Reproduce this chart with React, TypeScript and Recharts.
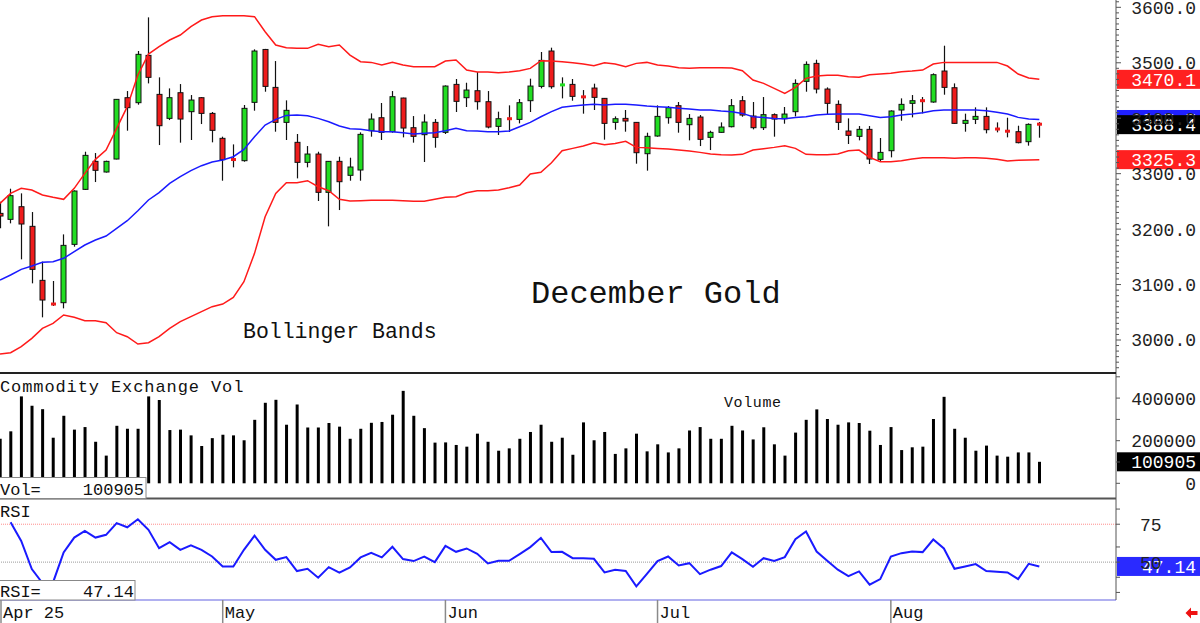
import React from "react";
import { ComposedChart, Bar, Line, XAxis, YAxis, ReferenceLine } from "recharts";

// ---------- data ----------
const monthTickIdx = [0, 21, 42, 62, 84];
const monthLabels = ["Apr 25", "May", "Jun", "Jul", "Aug"];

const opens = [
  3228.4, 3217.6, 3240.4, 3205.0, 3107.6, 3066.1, 3067.3, 3172.5, 3271.7, 3322.2,
  3303.0, 3326.4, 3437.0, 3428.0, 3513.3, 3443.0, 3399.7, 3446.0, 3411.8, 3437.0,
  3408.7, 3363.7, 3326.4, 3323.4, 3428.6, 3524.0, 3455.6, 3392.5, 3356.5, 3320.4,
  3335.4, 3266.3, 3322.2, 3297.0, 3306.6, 3377.5, 3400.9, 3375.7, 3436.4, 3382.9,
  3370.3, 3392.5, 3374.5, 3461.0, 3437.0, 3449.6, 3429.8, 3385.3, 3399.7, 3397.9,
  3431.6, 3457.4, 3521.2, 3459.2, 3461.0, 3439.4, 3454.4, 3435.8, 3392.5, 3399.7,
  3392.5, 3336.0, 3367.9, 3400.9, 3422.6, 3388.3, 3402.1, 3365.5, 3374.5, 3384.7,
  3431.6, 3403.9, 3382.9, 3406.4, 3399.1, 3411.8, 3466.5, 3498.9, 3452.6, 3425.0,
  3376.9, 3367.3, 3379.9, 3325.8, 3341.4, 3414.8, 3426.8, 3432.2, 3429.2, 3485.1,
  3455.0, 3390.7, 3397.9, 3403.3, 3381.1, 3378.7, 3375.7, 3357.7, 3390.0,
];
const highs = [
  3249.5, 3272.9, 3264.5, 3230.8, 3141.3, 3106.4, 3190.5, 3269.9, 3339.6, 3337.2,
  3323.4, 3434.6, 3449.0, 3521.2, 3581.9, 3473.7, 3453.8, 3461.6, 3441.8, 3438.0,
  3411.2, 3366.7, 3352.8, 3423.8, 3524.2, 3525.0, 3503.1, 3432.2, 3371.5, 3349.8,
  3339.6, 3322.8, 3330.6, 3328.8, 3374.5, 3408.7, 3427.4, 3449.0, 3437.0, 3403.9,
  3407.0, 3398.5, 3459.2, 3470.7, 3464.0, 3483.3, 3449.0, 3411.8, 3423.2, 3434.6,
  3471.3, 3519.4, 3527.2, 3473.7, 3470.7, 3450.8, 3462.3, 3436.5, 3403.3, 3414.8,
  3393.0, 3373.9, 3423.2, 3422.0, 3429.2, 3407.5, 3405.7, 3377.5, 3392.5, 3434.6,
  3440.0, 3429.2, 3438.2, 3408.7, 3420.2, 3470.1, 3502.5, 3505.5, 3455.6, 3432.2,
  3399.7, 3385.9, 3385.9, 3364.3, 3414.2, 3435.8, 3441.8, 3438.2, 3480.9, 3530.8,
  3462.8, 3408.2, 3419.6, 3419.6, 3392.5, 3400.9, 3386.5, 3390.7, 3393.1,
];
const lows = [
  3201.4, 3210.4, 3145.5, 3102.2, 3040.9, 3061.3, 3057.1, 3168.3, 3270.5, 3284.9,
  3302.0, 3325.8, 3377.5, 3424.4, 3462.8, 3351.6, 3396.7, 3355.9, 3360.7, 3389.5,
  3356.5, 3287.3, 3311.4, 3321.6, 3413.6, 3447.8, 3375.7, 3360.7, 3291.5, 3311.4,
  3250.7, 3205.0, 3234.4, 3287.3, 3287.3, 3366.7, 3360.7, 3373.9, 3365.5, 3355.9,
  3321.0, 3346.8, 3371.5, 3411.2, 3420.2, 3415.4, 3381.7, 3369.7, 3375.1, 3390.7,
  3411.2, 3453.8, 3453.2, 3435.8, 3431.6, 3408.2, 3414.8, 3361.3, 3379.3, 3375.7,
  3318.0, 3305.4, 3366.7, 3390.1, 3373.9, 3360.1, 3349.8, 3342.6, 3373.9, 3383.5,
  3402.7, 3379.9, 3378.7, 3366.7, 3390.1, 3403.3, 3447.8, 3444.8, 3407.5, 3378.7,
  3353.5, 3360.1, 3317.4, 3321.0, 3329.4, 3395.5, 3401.5, 3408.7, 3428.0, 3442.4,
  3390.0, 3375.7, 3389.5, 3372.7, 3374.5, 3365.5, 3354.7, 3350.5, 3364.9,
];
const closes = [
  3223.6, 3260.3, 3209.2, 3127.4, 3072.1, 3063.7, 3170.7, 3268.7, 3333.0, 3306.0,
  3322.2, 3434.0, 3419.0, 3515.2, 3473.7, 3386.5, 3437.0, 3398.5, 3432.8, 3408.7,
  3378.1, 3325.2, 3324.6, 3417.8, 3521.2, 3457.4, 3392.5, 3414.2, 3320.4, 3335.4,
  3266.3, 3322.2, 3285.5, 3312.0, 3370.9, 3398.5, 3374.5, 3438.8, 3382.3, 3367.3,
  3393.1, 3365.5, 3458.0, 3430.4, 3450.8, 3429.8, 3384.1, 3399.1, 3398.5, 3428.0,
  3458.0, 3504.3, 3456.8, 3461.0, 3439.4, 3437.6, 3437.6, 3390.7, 3399.1, 3394.9,
  3337.8, 3367.3, 3403.3, 3419.0, 3392.5, 3399.7, 3361.9, 3374.5, 3384.1, 3422.6,
  3405.7, 3382.9, 3406.4, 3398.5, 3407.5, 3462.8, 3497.1, 3452.6, 3426.8, 3392.5,
  3369.1, 3379.9, 3326.4, 3338.4, 3413.0, 3425.0, 3431.6, 3431.0, 3478.5, 3455.6,
  3390.7, 3396.1, 3403.3, 3379.3, 3379.9, 3374.5, 3355.9, 3388.9, 3388.4,
];
const upperBand = [
  3246.5, 3264.5, 3273.5, 3270.5, 3261.5, 3257.3, 3253.7, 3273.5, 3300.6, 3325.8,
  3342.6, 3381.7, 3420.8, 3477.9, 3515.7, 3529.0, 3541.0, 3550.0, 3565.0, 3577.1,
  3583.1, 3584.9, 3584.9, 3584.9, 3583.1, 3556.0, 3532.0, 3527.2, 3526.0, 3526.0,
  3533.2, 3529.0, 3532.0, 3513.9, 3501.9, 3500.7, 3495.9, 3500.7, 3495.9, 3492.9,
  3492.9, 3492.9, 3503.1, 3504.9, 3486.9, 3483.3, 3483.3, 3482.1, 3483.3, 3485.7,
  3489.9, 3503.7, 3503.1, 3501.9, 3500.1, 3497.7, 3494.7, 3500.1, 3497.7, 3492.9,
  3498.9, 3500.7, 3495.9, 3494.1, 3491.1, 3489.9, 3491.1, 3491.1, 3491.1, 3490.5,
  3485.7, 3468.9, 3462.8, 3453.8, 3444.8, 3455.6, 3471.9, 3476.1, 3477.3, 3477.3,
  3474.9, 3473.7, 3478.5, 3479.7, 3480.9, 3483.9, 3485.1, 3486.9, 3497.7, 3500.7,
  3500.7, 3500.7, 3500.7, 3500.7, 3500.7, 3494.1, 3479.7, 3472.5, 3470.1,
];
const midBand = [
  3108.2, 3117.2, 3127.4, 3133.4, 3140.1, 3141.3, 3147.3, 3159.3, 3171.3, 3180.3,
  3187.5, 3201.4, 3215.2, 3233.2, 3252.5, 3265.7, 3282.5, 3294.5, 3305.4, 3314.4,
  3321.0, 3324.6, 3330.6, 3343.8, 3366.7, 3387.7, 3397.9, 3405.1, 3405.7, 3404.5,
  3399.7, 3393.7, 3385.9, 3381.1, 3379.9, 3377.5, 3375.7, 3375.7, 3373.9, 3371.5,
  3372.7, 3373.9, 3377.5, 3381.7, 3377.5, 3376.9, 3375.7, 3375.7, 3376.9, 3384.7,
  3392.5, 3402.7, 3411.8, 3419.6, 3422.0, 3423.8, 3425.0, 3423.8, 3425.0, 3425.0,
  3423.8, 3422.0, 3420.8, 3419.6, 3417.8, 3416.6, 3414.8, 3414.8, 3413.0, 3411.8,
  3408.7, 3402.7, 3401.5, 3399.7, 3399.1, 3401.5, 3402.7, 3405.7, 3407.0, 3407.5,
  3407.5, 3407.5, 3404.5, 3401.5, 3402.7, 3405.7, 3407.5, 3410.0, 3413.6, 3414.8,
  3414.8, 3414.8, 3414.8, 3413.6, 3410.6, 3407.5, 3401.5, 3398.5, 3397.7,
];
const lowerBand = [
  2974.8, 2977.2, 2988.0, 3003.0, 3021.0, 3030.1, 3045.1, 3040.9, 3034.9, 3034.9,
  3031.3, 3013.2, 3006.0, 2992.8, 2995.2, 3006.0, 3021.0, 3033.1, 3042.1, 3051.1,
  3060.1, 3064.9, 3076.9, 3105.2, 3156.3, 3222.4, 3264.5, 3283.7, 3283.7, 3287.3,
  3276.5, 3269.3, 3253.7, 3250.7, 3251.3, 3251.9, 3251.9, 3251.9, 3251.3, 3250.1,
  3250.1, 3253.7, 3257.3, 3258.5, 3265.7, 3269.3, 3269.3, 3270.5, 3274.7, 3279.5,
  3299.3, 3302.4, 3319.8, 3341.4, 3345.6, 3349.8, 3355.9, 3352.2, 3354.6, 3358.3,
  3347.4, 3346.8, 3345.6, 3344.4, 3342.6, 3340.8, 3338.4, 3335.4, 3334.2, 3333.6,
  3334.8, 3342.6, 3345.0, 3347.4, 3350.4, 3345.6, 3334.8, 3334.2, 3334.2, 3335.4,
  3341.4, 3342.6, 3329.4, 3321.6, 3321.6, 3323.4, 3326.4, 3328.8, 3328.8, 3328.8,
  3327.6, 3328.8, 3328.8, 3327.6, 3325.8, 3322.8, 3324.0, 3324.6, 3325.3,
];
const volumes = [
  209000, 244000, 408000, 364000, 348000, 214000, 317000, 252000, 264000, 195000,
  130000, 270000, 256000, 256000, 408000, 391000, 250000, 252000, 225000, 175000,
  212000, 228000, 225000, 202000, 298000, 378000, 392000, 275000, 370000, 262000,
  262000, 283000, 266000, 209000, 256000, 284000, 288000, 322000, 434000, 317000,
  259000, 191000, 192000, 180000, 172000, 233000, 195000, 153000, 164000, 209000,
  241000, 275000, 195000, 214000, 134000, 286000, 202000, 241000, 138000, 164000,
  233000, 150000, 183000, 145000, 164000, 248000, 264000, 209000, 209000, 270000,
  248000, 206000, 263000, 183000, 130000, 238000, 298000, 347000, 302000, 275000,
  286000, 283000, 247000, 180000, 264000, 156000, 169000, 172000, 302000, 406000,
  256000, 214000, 153000, 177000, 130000, 125000, 145000, 145000, 100905,
];
const rsiValues: (number | null)[] = [
  null, 76.3, 64.0, 45.4, 36.2, 36.6, 56.4, 66.2, 70.6, 66.2,
  68.0, 75.7, 73.0, 78.3, 71.3, 59.2, 63.2, 58.1, 61.0, 58.1,
  53.7, 47.1, 47.1, 58.1, 67.5, 58.1, 51.5, 53.3, 44.1, 45.6,
  39.7, 46.7, 43.0, 46.5, 53.1, 56.1, 53.1, 60.1, 52.0, 50.7,
  53.7, 50.0, 60.7, 56.8, 59.0, 55.5, 49.1, 50.9, 50.9, 55.3,
  59.9, 66.0, 56.6, 56.8, 52.6, 52.6, 52.2, 43.2, 45.0, 44.1,
  34.0, 42.3, 50.7, 53.7, 47.8, 49.3, 42.1, 45.0, 47.4, 56.4,
  52.0, 46.9, 52.6, 50.7, 53.3, 65.1, 70.2, 57.0, 50.9, 45.0,
  40.8, 43.9, 35.1, 38.8, 53.7, 55.9, 57.0, 56.6, 64.9, 59.0,
  45.6, 47.1, 48.7, 44.1, 43.6, 43.2, 38.8, 48.9, 47.14,
];

const priceTickLabels = [3000, 3100, 3200, 3300, 3400, 3500, 3600];
const volTickLabels = [0, 200000, 400000];
const rsiTickLabels = [50, 75];

// ---------- style constants ----------
const MONO = '"Liberation Mono", "DejaVu Sans Mono", monospace';
const GREEN = "#22dd22";
const RED = "#ee1c1c";
const BAND_RED = "#ff1a1a";
const BAND_BLUE = "#1a1aff";
const AXIS = "#555";
const X_DOMAIN: [number, number] = [0, 105.23];

const rows = opens.map((o, i) => ({
  i,
  range: [lows[i], highs[i]],
  open: o,
  close: closes[i],
  upper: upperBand[i],
  mid: midBand[i],
  lower: lowerBand[i],
  vol: volumes[i],
  rsi: rsiValues[i],
}));

const last = rows.length - 1;

// minor ticks every 10 on the price axis
const priceTicks: number[] = [];
for (let v = 2950; v <= 3610; v += 10) priceTicks.push(v);

function Candle(props: any) {
  const { x, y, width, height, payload } = props;
  if (!payload || x == null) return null;
  const top = Math.min(y, y + height);
  const bot = Math.max(y, y + height);
  const [lo, hi] = payload.range;
  const cx = Math.round(x + width / 2) + 0.5;
  const py = (v: number) => top + ((hi - v) / (hi - lo)) * (bot - top);
  const yo = py(payload.open);
  const yc = py(payload.close);
  const up = payload.close >= payload.open;
  const color = up ? GREEN : RED;
  const bTop = Math.min(yo, yc);
  const bH = Math.abs(yo - yc);
  return (
    <g>
      <line x1={cx} x2={cx} y1={top} y2={bot} stroke="#111" strokeWidth={1.2} />
      {bH < 2.5 ? (
        <rect x={cx - 2.5} y={(yo + yc) / 2 - 1.5} width={5} height={3} fill={color} />
      ) : (
        <rect x={cx - 2.5} y={bTop} width={5} height={bH} fill={color} stroke="#111" strokeWidth={1} />
      )}
    </g>
  );
}

function Tag(props: any) {
  const { viewBox, text, fill } = props;
  if (!viewBox) return null;
  const yy = viewBox.y;
  const x0 = viewBox.x + viewBox.width + 1;
  return (
    <g>
      <rect x={x0} y={yy - 9.5} width={1200 - x0} height={19} fill={fill} />
      <text x={1196} y={yy} dy="0.36em" textAnchor="end" fill="#fff" fontSize={18} fontFamily={MONO}>
        {text}
      </text>
    </g>
  );
}

function PriceTick(props: any) {
  const { x, y, payload } = props;
  const v = payload.value;
  const major = priceTickLabels.includes(v);
  return (
    <g>
      <line x1={x} x2={x + (major ? 5 : 3)} y1={y} y2={y} stroke={AXIS} />
      {major && (
        <text x={x + 80} y={y} dy="0.36em" textAnchor="end" fill="#222" fontSize={18} fontFamily={MONO}>
          {v.toFixed(1)}
        </text>
      )}
    </g>
  );
}

function VolTick(props: any) {
  const { x, y, payload } = props;
  const v = payload.value;
  const major = volTickLabels.includes(v);
  return (
    <g>
      <line x1={x} x2={x + 4} y1={y} y2={y} stroke={AXIS} />
      {major && (
        <text x={x + 80} y={y} dy="0.36em" textAnchor="end" fill="#222" fontSize={18} fontFamily={MONO}>
          {String(v)}
        </text>
      )}
    </g>
  );
}

function RsiTick(props: any) {
  const { x, y, payload } = props;
  const v = payload.value;
  return (
    <g>
      <line x1={x} x2={x + 4} y1={y} y2={y} stroke={AXIS} />
      {rsiTickLabels.includes(v) && (
        <text x={x + 24} y={y} dy="0.36em" textAnchor="start" fill="#222" fontSize={18} fontFamily={MONO}>
          {String(v)}
        </text>
      )}
    </g>
  );
}

function DateTick(props: any) {
  const { x, y, payload } = props;
  const k = monthTickIdx.indexOf(payload.value);
  const lx = Math.max(x, 1);
  return (
    <g>
      <line x1={lx} x2={lx} y1={y} y2={y + 23} stroke="#8a8a8a" strokeWidth={1.5} />
      <text x={lx + 2} y={y + 18} fill="#111" fontSize={17} fontFamily={MONO}>
        {k >= 0 ? monthLabels[k] : ""}
      </text>
    </g>
  );
}

export default function App() {
  const lastVol = volumes[last];
  const lastRsi = rsiValues[last] as number;
  return (
    <div style={{ position: "absolute", left: 0, top: 0, width: 1200, height: 623, background: "#fff", overflow: "hidden" }}>
      {/* price panel */}
      <div style={{ position: "absolute", left: 0, top: 0 }}>
        <ComposedChart width={1200} height={373} data={rows} margin={{ top: 0, right: 0, bottom: 0, left: 0 }}>
          <XAxis dataKey="i" type="number" domain={X_DOMAIN} hide allowDataOverflow />
          <YAxis
            orientation="right"
            width={84}
            type="number"
            domain={[2940.5, 3613.2]}
            allowDataOverflow
            ticks={priceTicks}
            interval={0}
            tickSize={0}
            tickMargin={0}
            tickLine={false}
            axisLine={{ stroke: AXIS }}
            tick={<PriceTick />}
          />
          <Line dataKey="upper" stroke={BAND_RED} strokeWidth={1.5} dot={false} activeDot={false} isAnimationActive={false} />
          <Line dataKey="lower" stroke={BAND_RED} strokeWidth={1.5} dot={false} activeDot={false} isAnimationActive={false} />
          <Line dataKey="mid" stroke={BAND_BLUE} strokeWidth={1.5} dot={false} activeDot={false} isAnimationActive={false} />
          <Bar dataKey="range" barSize={6} shape={<Candle />} activeBar={false} isAnimationActive={false} />
          <ReferenceLine y={upperBand[last]} strokeOpacity={0} label={<Tag text={upperBand[last].toFixed(1)} fill="#ff2020" />} />
          <ReferenceLine y={midBand[last]} strokeOpacity={0} label={<Tag text={midBand[last].toFixed(1)} fill="#2020ff" />} />
          <ReferenceLine y={closes[last]} strokeOpacity={0} label={<Tag text={closes[last].toFixed(1)} fill="#000" />} />
          <ReferenceLine y={lowerBand[last]} strokeOpacity={0} label={<Tag text={lowerBand[last].toFixed(1)} fill="#ff2020" />} />
        </ComposedChart>
      </div>

      {/* volume panel */}
      <div style={{ position: "absolute", left: 0, top: 373 }}>
        <ComposedChart width={1200} height={125} data={rows} margin={{ top: 0, right: 0, bottom: 0, left: 0 }}>
          <XAxis dataKey="i" type="number" domain={X_DOMAIN} hide allowDataOverflow />
          <YAxis
            orientation="right"
            width={84}
            type="number"
            domain={[-69014, 517840]}
            allowDataOverflow
            ticks={[0, 100000, 200000, 300000, 400000, 500000]}
            interval={0}
            tickSize={0}
            tickMargin={0}
            tickLine={false}
            axisLine={{ stroke: AXIS }}
            tick={<VolTick />}
          />
          <Bar dataKey="vol" fill="#000" barSize={3} activeBar={false} isAnimationActive={false} />
          <ReferenceLine y={lastVol} strokeOpacity={0} label={<Tag text={String(lastVol)} fill="#000" />} />
        </ComposedChart>
      </div>

      {/* RSI panel + date axis */}
      <div style={{ position: "absolute", left: 0, top: 498 }}>
        <ComposedChart width={1200} height={125} data={rows} margin={{ top: 0, right: 0, bottom: 0, left: 0 }}>
          <XAxis
            dataKey="i"
            type="number"
            domain={X_DOMAIN}
            allowDataOverflow
            ticks={monthTickIdx}
            interval={0}
            height={23}
            tickSize={0}
            tickMargin={0}
            axisLine={false}
            tickLine={false}
            tick={<DateTick />}
          />
          <YAxis
            orientation="right"
            width={84}
            type="number"
            domain={[25, 92.3]}
            allowDataOverflow
            ticks={[30, 40, 50, 60, 75, 85]}
            interval={0}
            tickSize={0}
            tickMargin={0}
            tickLine={false}
            axisLine={{ stroke: AXIS }}
            tick={<RsiTick />}
          />
          <ReferenceLine y={75} stroke="#ff8c8c" strokeDasharray="1 1" />
          <ReferenceLine y={50} stroke="#9a9a9a" strokeDasharray="1 1" />
          <ReferenceLine y={25} stroke="#b0b0f0" strokeWidth={2} />
          <Line dataKey="rsi" stroke="#1a1aff" strokeWidth={2} dot={false} activeDot={false} isAnimationActive={false} />
          <ReferenceLine y={lastRsi} strokeOpacity={0} label={<Tag text={lastRsi.toFixed(2)} fill="#2a2aff" />} />
        </ComposedChart>
      </div>

      {/* annotations overlay */}
      <svg width={1200} height={623} style={{ position: "absolute", left: 0, top: 0, pointerEvents: "none" }} fontFamily={MONO}>
        <text x={531} y={303} fontSize={32} fill="#111">December Gold</text>
        <text x={243} y={338} fontSize={21.5} fill="#111">Bollinger Bands</text>
        <rect x={0} y={372} width={1116} height={2} fill="#222" />
        <rect x={0} y={497.5} width={1116} height={2} fill="#555" />
        <text x={0} y={392} fontSize={17} letterSpacing={0.9} fill="#111">Commodity Exchange Vol</text>
        <text x={724} y={407} fontSize={15} letterSpacing={0.6} fill="#111">Volume</text>
        <rect x={-1} y={477.5} width={147} height={21} fill="#fff" stroke="#888" />
        <text x={0} y={495} fontSize={17} fill="#111">Vol=</text>
        <text x={144} y={495} fontSize={17} textAnchor="end" fill="#111">{String(lastVol)}</text>
        <text x={0} y={517} fontSize={17} fill="#111">RSI</text>
        <rect x={-1} y={580.5} width={136} height={19.5} fill="#fff" stroke="#888" />
        <text x={0} y={597} fontSize={17} fill="#111">RSI=</text>
        <text x={134} y={597} fontSize={17} textAnchor="end" fill="#111">{lastRsi.toFixed(2)}</text>
        <path d="M1185.5,613 L1191,607.5 L1191,611 L1197.5,611 L1197.5,615 L1191,615 L1191,618.5 Z" fill="#ee1111" />
      </svg>
    </div>
  );
}
